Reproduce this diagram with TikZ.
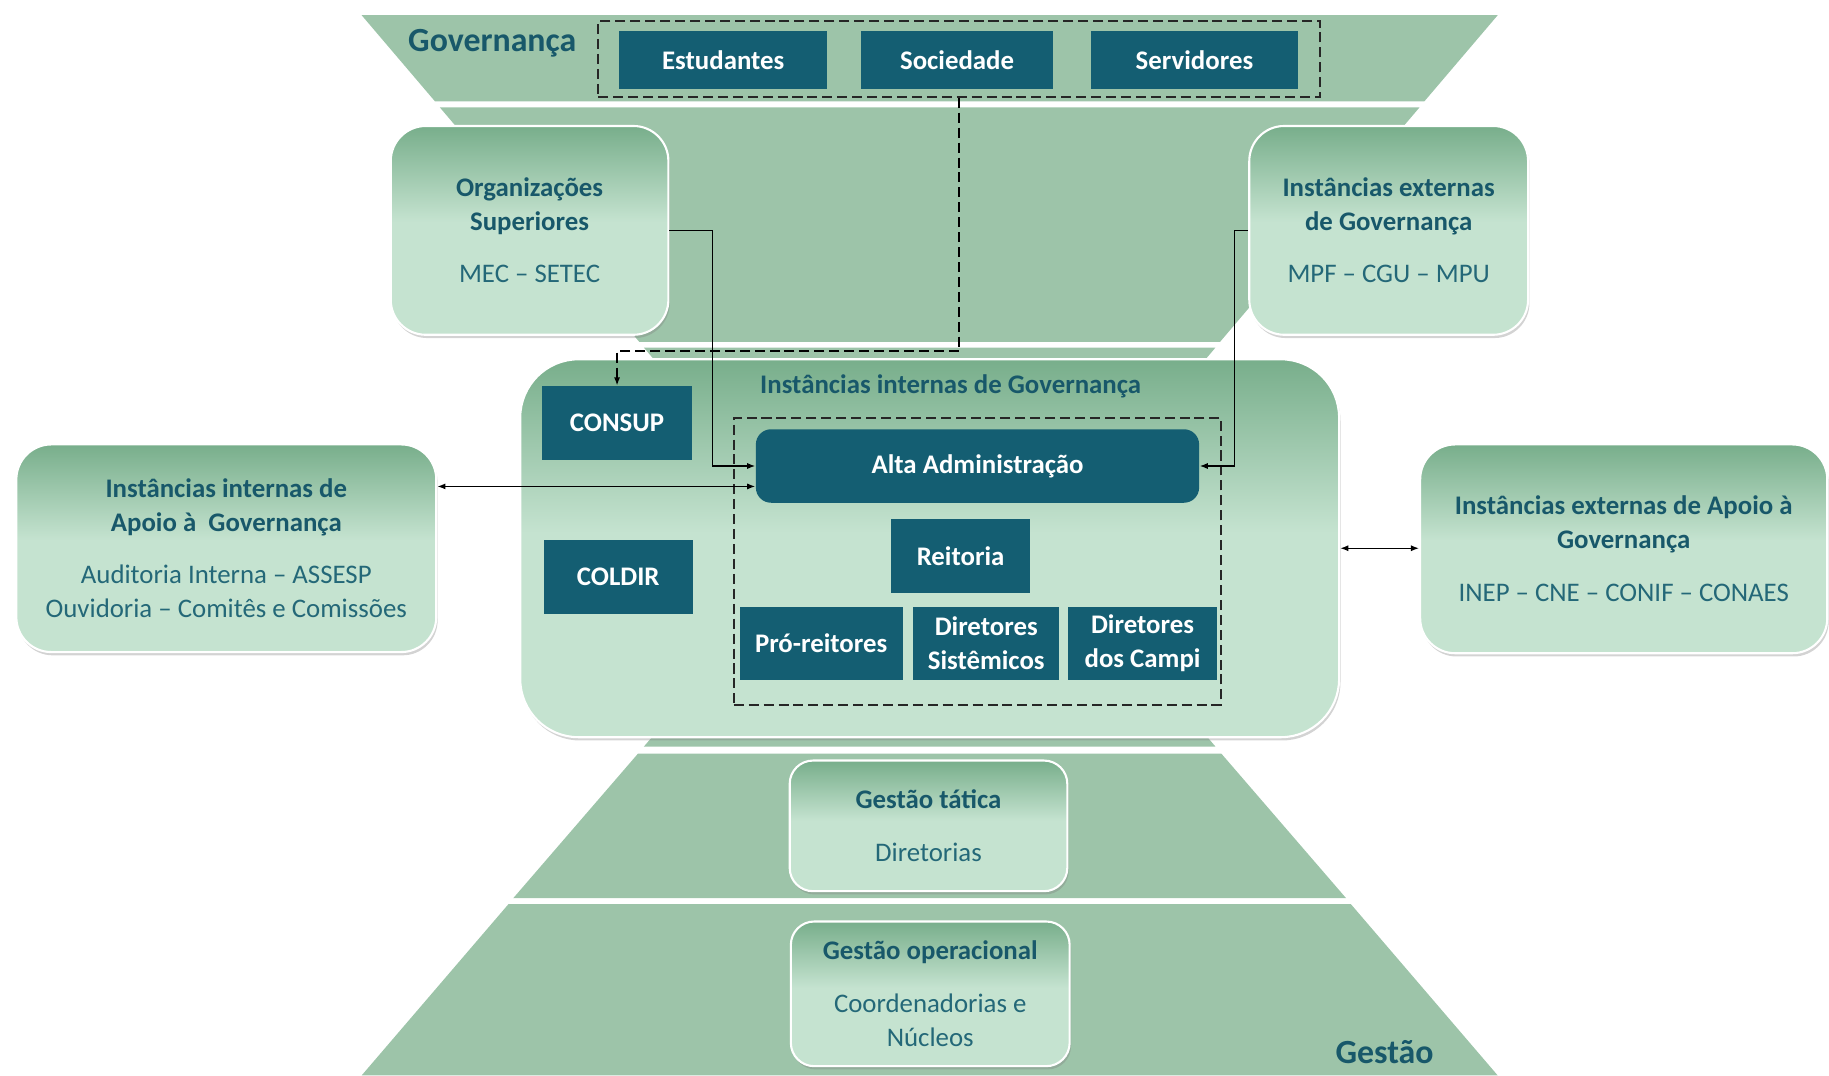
\documentclass[tikz,border=0pt]{standalone}
\usepackage{fontspec}
\setmainfont{Carlito}
\usetikzlibrary{arrows.meta,shadows}
\definecolor{bandgreen}{RGB}{157,196,169}
\definecolor{paneltop}{RGB}{120,174,139}
\definecolor{panellight}{RGB}{197,227,208}
\definecolor{unitblue}{RGB}{20,94,114}
\definecolor{titleblue}{RGB}{24,88,106}
\definecolor{subblue}{RGB}{36,104,120}
\pgfdeclareverticalshading{panelshade}{100bp}{color(0bp)=(panellight); color(52bp)=(panellight); color(75bp)=(paneltop); color(100bp)=(paneltop)}
\newcommand{\psub}[1]{{\mdseries\color{subblue}#1}}

\begin{document}
\begin{tikzpicture}[x=0.5pt,y=-0.5pt,
  font=\fontsize{11.5pt}{14.5pt}\selectfont,
  band/.style={fill=bandgreen},
  panel/.style={shading=panelshade,draw=white,line width=0.9pt,rounded corners=15pt,
    align=center,text=titleblue,font=\fontsize{11.5pt}{14.5pt}\selectfont\bfseries,
    drop shadow={opacity=0.35,shadow xshift=0.6pt,shadow yshift=-1.4pt}},
  unit/.style={fill=unitblue,text=white,font=\fontsize{11.5pt}{14.5pt}\selectfont\bfseries,
    align=center,inner sep=0pt,minimum height=31.5pt},
  dashbox/.style={draw=black!85,line width=0.85pt,dash pattern=on 4.3pt off 2.1pt,inner sep=0pt},
  link/.style={draw=black,line width=0.6pt,-{Latex[length=3.5pt,width=2.6pt]}},
  both/.style={link,{Latex[length=3.5pt,width=2.6pt]}-{Latex[length=3.5pt,width=2.6pt]}},
  govline/.style={link,line width=0.85pt,dash pattern=on 4.3pt off 2.1pt},
  big/.style={font=\fontsize{14.5pt}{17pt}\selectfont\bfseries,text=titleblue}]
\useasboundingbox (0,0) rectangle (1568,922);
% hourglass bands
\fill[band] (310,13) -- (1284,13) -- (1221,87) -- (373,87) -- cycle;
\fill[band] (377,92) -- (1217,92) -- (1046,293) -- (548,293) -- cycle;
\fill[band] (552,298) -- (1042,298) -- (896,470) -- (1042,640) -- (552,640) -- (698,470) -- cycle;
\fill[band] (547,646) -- (1047,646) -- (1154,770) -- (440,770) -- cycle;
\fill[band] (436,775) -- (1158,775) -- (1284,922) -- (310,922) -- cycle;
\node[big] (govlabel) at (422,37) {Governança};
\node[big] (gestlabel) at (1187,902) {Gestão};
% panels
\node[panel,minimum width=119pt,minimum height=89.5pt] (orgsup) at (454,197.5)
  {Organizações\\Superiores\\[8pt]\psub{MEC – SETEC}};
\node[panel,minimum width=119.5pt,minimum height=89.5pt] (extgov) at (1190.5,197.5)
  {Instâncias externas\\de Governança\\[8pt]\psub{MPF – CGU – MPU}};
\node[panel,minimum width=180pt,minimum height=89pt] (intapoio) at (194,470)
  {Instâncias internas de\\Apoio à\ \ Governança\\[8pt]\psub{Auditoria Interna – ASSESP}\\\psub{Ouvidoria – Comitês e Comissões}};
\node[panel,minimum width=174.5pt,minimum height=89.5pt] (extapoio) at (1392,470.5)
  {Instâncias externas de Apoio à\\Governança\\[8pt]\psub{INEP – CNE – CONIF – CONAES}};
\node[panel,rounded corners=25pt,minimum width=351pt,minimum height=162pt] (intgov) at (797,470) {};
\node[panel,rounded corners=10pt,minimum width=119pt,minimum height=56pt] (tatica) at (796,708)
  {Gestão tática\\[8pt]\psub{Diretorias}};
\node[panel,rounded corners=10pt,minimum width=119.5pt,minimum height=62pt] (operac) at (797.5,852)
  {Gestão operacional\\[8pt]\psub{Coordenadorias e}\\\psub{Núcleos}};
\node[font=\fontsize{11.5pt}{14.5pt}\selectfont\bfseries,text=titleblue] (intgovlabel) at (815,331)
  {Instâncias internas de Governança};
% dashed groups
\node[dashbox,minimum width=309.5pt,minimum height=32.5pt] (govdash) at (822.5,50.5) {};
\node[dashbox,minimum width=209pt,minimum height=123pt] (altadash) at (838,481) {};
% units
\node[unit,minimum width=89pt,minimum height=24.5pt] (estud) at (620,51.5) {Estudantes};
\node[unit,minimum width=82.5pt,minimum height=24.5pt] (socied) at (820.5,51.5) {Sociedade};
\node[unit,minimum width=89pt,minimum height=24.5pt] (servid) at (1024,51.5) {Servidores};
\node[unit,minimum width=64pt] (consup) at (529,362.5) {CONSUP};
\node[unit,minimum width=64pt] (coldir) at (530,494.5) {COLDIR};
\node[unit,minimum width=190pt,rounded corners=6.5pt] (alta) at (838,399.5) {Alta Administração};
\node[unit,minimum width=59.5pt] (reitoria) at (823.5,476.5) {Reitoria};
\node[unit,minimum width=70pt] (proreit) at (704,551.5) {Pró-reitores};
\node[unit,minimum width=62.5pt] (dirsist) at (845.5,551.5) {Diretores\\Sistêmicos};
\node[unit,minimum width=63.5pt] (dircamp) at (979.5,551.5) {Diretores\\dos Campi};
% connectors
\coordinate (apoiolink) at ([yshift=-8.75pt]alta.west);
\draw[govline] (govdash.south) -- ++(0,217) -| (consup.north);
\draw[link] (orgsup.east) -- ++(37,0) |- (alta.west);
\draw[link] (extgov.west) -- ++(-12,0) |- (alta.east);
\draw[both] (apoiolink -| intapoio.east) -- (apoiolink);
\draw[both] (intgov.east) -- (intgov.east -| extapoio.west);
\end{tikzpicture}
\end{document}
